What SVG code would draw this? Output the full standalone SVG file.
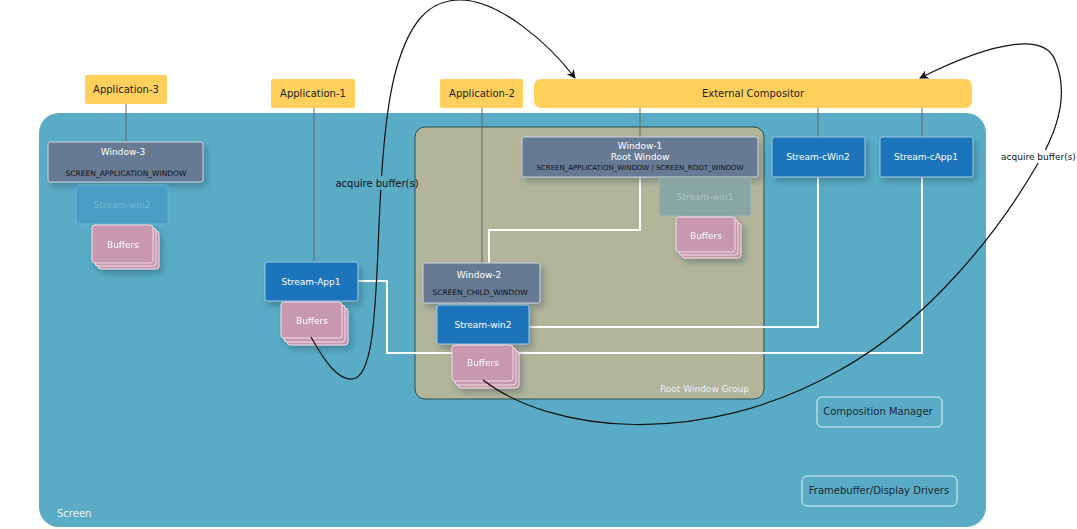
<svg xmlns="http://www.w3.org/2000/svg" width="1077" height="529" viewBox="0 0 1077 529">
<defs>
<filter id="sh" x="-20%" y="-20%" width="150%" height="160%"><feDropShadow dx="3" dy="4" stdDeviation="3" flood-color="#1a3a50" flood-opacity="0.35"/></filter>
<marker id="ah" viewBox="0 0 10 10" refX="9" refY="5" markerWidth="9" markerHeight="9" orient="auto" markerUnits="userSpaceOnUse"><path d="M0,0 L10,5 L0,10 L3,5 Z" fill="#111"/></marker>
</defs>
<style>
text{font-family:"DejaVu Sans",sans-serif}
.app{fill:#FFD05C}
.apt{font-size:10px;fill:#222;text-anchor:middle}
.win{fill:#667A94;stroke:#c9d3df;stroke-width:1}
.str{fill:#1F75BB;stroke:#9fc6e4;stroke-width:1}
.buf{fill:#C898AF;stroke:#f0dde6;stroke-width:1}
.wt{font-size:9px;fill:#fff;text-anchor:middle}
.dt{font-size:7.5px;fill:#111;text-anchor:middle}
.g{stroke:#666;stroke-width:1;fill:none}
.wl{stroke:#fff;stroke-width:2;fill:none}
.cv{stroke:#111;stroke-width:1.2;fill:none}
.lb{font-size:10px;fill:#111}
.out{fill:none;stroke:#e6f2f7;stroke-width:1}
</style>
<g id="screen"><rect x="39" y="113" width="947" height="414" rx="20" fill="#5AACC6"/><text x="57" y="517" font-size="10" fill="#e8f4f8">Screen</text></g>
<g id="root-group"><rect x="415" y="127" width="349" height="272" rx="10" fill="#B3B59B" stroke="#2c4a4c" stroke-width="1"/><text x="749" y="392" font-size="9" fill="#eef" text-anchor="end">Root Window Group</text></g>
<g id="app3"><rect class="app" x="85" y="75" width="82" height="29" rx="2"/><text class="apt" x="126" y="93">Application-3</text></g>
<g id="app1"><rect class="app" x="271" y="79" width="84" height="29" rx="2"/><text class="apt" x="313" y="97">Application-1</text></g>
<g id="app2"><rect class="app" x="440" y="79" width="83" height="29" rx="2"/><text class="apt" x="482" y="97">Application-2</text></g>
<g id="ext"><rect class="app" x="534" y="79" width="438" height="29" rx="7"/><text class="apt" x="753" y="97">External Compositor</text></g>
<g id="links" class="g">
<path d="M126,104 V143"/><path d="M314,108 V263"/><path d="M482,108 V264"/><path d="M640,108 V137"/><path d="M818,108 V137"/><path d="M922,108 V137"/>
</g>
<g id="connectors">
<path class="wl" d="M640,177 V230 H489 V263"/>
<path class="wl" d="M358,281 H387 V353 H922 V177"/>
<path class="wl" d="M529,327 H818 V177"/>
</g>
<g id="window3"><rect class="win" x="48" y="142" width="155" height="40" rx="2" filter="url(#sh)"/><text class="wt" x="123" y="155">Window-3</text><text class="dt" x="126" y="176">SCREEN_APPLICATION_WINDOW</text></g>
<g id="stream-win2-faded"><rect x="76" y="185" width="92" height="39" rx="2" fill="#4A9DC4" stroke="#6fb7d4" stroke-width="0.8"/><text class="wt" x="122" y="208" style="fill:#74bad6">Stream-win2</text></g>
<g id="buffers3" filter="url(#sh)"><rect class="buf" x="98" y="231" width="61" height="38" rx="3"/><rect class="buf" x="95" y="228" width="61" height="38" rx="3"/><rect class="buf" x="92" y="225" width="61" height="38" rx="3"/><text class="wt" x="123" y="248">Buffers</text></g>
<g id="stream-app1"><rect class="str" x="265" y="262" width="93" height="39" rx="2" filter="url(#sh)"/><text class="wt" x="311" y="285">Stream-App1</text></g>
<g id="buffers1" filter="url(#sh)"><rect class="buf" x="287" y="308" width="61" height="37" rx="3"/><rect class="buf" x="284" y="305" width="61" height="37" rx="3"/><rect class="buf" x="281" y="302" width="61" height="36" rx="3"/><text class="wt" x="312" y="324">Buffers</text></g>
<g id="window1"><rect class="win" x="522" y="137" width="236" height="40" rx="2" filter="url(#sh)"/><text class="wt" x="640" y="149">Window-1</text><text class="wt" x="640" y="160">Root Window</text><text class="dt" x="640" y="170" style="font-size:7px">SCREEN_APPLICATION_WINDOW | SCREEN_ROOT_WINDOW</text></g>
<g id="stream-win1"><rect x="659" y="177" width="92" height="39" rx="2" fill="#8AA6A2" stroke="#a3bbb7" stroke-width="0.8"/><text class="wt" x="705" y="200" style="fill:#aac2bf">Stream-win1</text></g>
<g id="buffers-w1" filter="url(#sh)"><rect class="buf" x="682" y="223" width="59" height="35" rx="3"/><rect class="buf" x="679" y="220" width="59" height="35" rx="3"/><rect class="buf" x="676" y="217" width="59" height="35" rx="3"/><text class="wt" x="706" y="239">Buffers</text></g>
<g id="window2"><rect class="win" x="423" y="263" width="117" height="40" rx="2" filter="url(#sh)"/><text class="wt" x="479" y="278">Window-2</text><text class="dt" x="480" y="295">SCREEN_CHILD_WINDOW</text></g>
<g id="stream-win2"><rect class="str" x="437" y="305" width="92" height="39" rx="2" filter="url(#sh)"/><text class="wt" x="483" y="328">Stream-win2</text></g>
<g id="buffers-w2" filter="url(#sh)"><rect class="buf" x="458" y="351" width="61" height="37" rx="3"/><rect class="buf" x="455" y="348" width="61" height="37" rx="3"/><rect class="buf" x="452" y="345" width="61" height="36" rx="3"/><text class="wt" x="483" y="366">Buffers</text></g>
<g id="stream-cwin2"><rect class="str" x="772" y="137" width="93" height="40" rx="2" filter="url(#sh)"/><text class="wt" x="818" y="160">Stream-cWin2</text></g>
<g id="stream-capp1"><rect class="str" x="880" y="137" width="93" height="40" rx="2" filter="url(#sh)"/><text class="wt" x="926" y="160">Stream-cApp1</text></g>
<g id="comp-mgr"><rect class="out" x="817" y="397" width="125" height="30" rx="5"/><text x="878" y="415" font-size="10" fill="#1a2a33" text-anchor="middle">Composition Manager</text></g>
<g id="fb"><rect class="out" x="802" y="476" width="155" height="30" rx="5"/><text x="879" y="494" font-size="10" fill="#1a2a33" text-anchor="middle">Framebuffer/Display Drivers</text></g>
<g id="curves">
<path class="cv" marker-end="url(#ah)" d="M311,337 C325,362 338,380 352,379 C372,378 375,320 378,250 C381,170 385,110 396,70 C410,20 430,0 460,0 C500,0 550,45 575,78"/>
<rect x="370" y="176" width="24" height="14" fill="#5AACC6"/>
<text class="lb" x="377" y="187" text-anchor="middle">acquire buffer(s)</text>
<path class="cv" marker-end="url(#ah)" d="M483,380 C550,432 700,450 840,370 C930,320 1000,230 1040,160 C1060,125 1068,90 1055,60 C1045,35 1000,38 920,78"/>
<rect x="1022" y="150" width="30" height="13" fill="#fff"/>
<text class="lb" x="1001" y="160" style="font-size:9px">acquire buffer(s)</text>
</g>
</svg>
